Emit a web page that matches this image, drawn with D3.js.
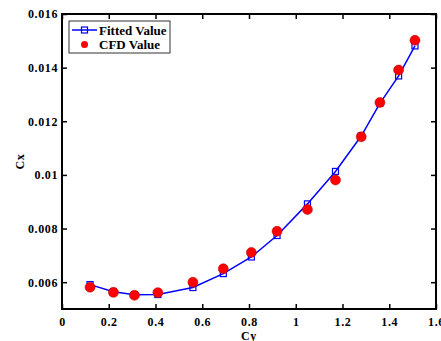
<!DOCTYPE html>
<html>
<head>
<meta charset="utf-8">
<script src="https://cdn.jsdelivr.net/npm/d3@7"></script>
<style>
  body { margin: 0; background: #fff; }
  svg text { font-family: "Liberation Serif", "Times New Roman", serif; font-weight: bold; }
</style>
</head>
<body>
<div id="chart"></div>
<script>
// values
const cy = [0.12, 0.22, 0.31, 0.41, 0.56, 0.69, 0.81, 0.92, 1.05, 1.17, 1.28, 1.36, 1.44, 1.51];
const fitted = [0.00591, 0.00564, 0.00553, 0.00554, 0.00580, 0.00632, 0.00694, 0.00774, 0.00892, 0.01013, 0.01145, 0.01267, 0.01369, 0.01481];
const cfd = [0.00581, 0.00562, 0.00551, 0.00561, 0.00600, 0.00650, 0.00711, 0.00790, 0.00871, 0.00981, 0.01142, 0.01270, 0.01391, 0.01502];
const xTicks = [0, 0.2, 0.4, 0.6, 0.8, 1, 1.2, 1.4, 1.6];
const yTicks = [0.006, 0.008, 0.01, 0.012, 0.014, 0.016];

const width = 441, height = 341;
const margin = { top: 14, right: 5, bottom: 32, left: 62 };

const svg = d3.select('#chart').append('svg')
    .attr('width', width)
    .attr('height', height);

const x = d3.scaleLinear().domain([0, 1.6]).range([margin.left, width - margin.right]);
const y = d3.scaleLinear().domain([0.005, 0.016]).range([height - margin.bottom, margin.top]);

const fmt = d => String(+d.toFixed(4));

// axes, ticks inside, mirrored on top/right
const styleAxis = g => {
    g.select('.domain').remove();
    g.selectAll('.tick line').attr('stroke', '#000').attr('stroke-width', 1.5);
    g.selectAll('.tick text').attr('font-size', 12).attr('letter-spacing', 0.6).attr('fill', '#000');
};

svg.append('g')
    .attr('transform', `translate(0,${y.range()[0]})`)
    .call(d3.axisBottom(x).tickValues(xTicks).tickFormat(fmt).tickSizeInner(-5).tickPadding(8))
    .call(styleAxis);
svg.append('g')
    .attr('transform', `translate(0,${y.range()[1]})`)
    .call(d3.axisTop(x).tickValues(xTicks).tickFormat('').tickSizeInner(-5))
    .call(styleAxis);
svg.append('g')
    .attr('transform', `translate(${x.range()[0]},0)`)
    .call(d3.axisLeft(y).tickValues(yTicks).tickFormat(fmt).tickSizeInner(-5).tickPadding(4))
    .call(styleAxis);
svg.append('g')
    .attr('transform', `translate(${x.range()[1]},0)`)
    .call(d3.axisRight(y).tickValues(yTicks).tickFormat('').tickSizeInner(-5))
    .call(styleAxis);

svg.append('rect')
    .attr('x', x.range()[0]).attr('y', y.range()[1])
    .attr('width', x.range()[1] - x.range()[0])
    .attr('height', y.range()[0] - y.range()[1])
    .attr('fill', 'none').attr('stroke', '#000').attr('stroke-width', 2);

// fitted line
const pts = cy.map((c, i) => ({ c, f: fitted[i], v: cfd[i] }));
svg.append('path')
    .datum(pts)
    .attr('fill', 'none')
    .attr('stroke', '#0000ff')
    .attr('stroke-width', 1.5)
    .attr('d', d3.line().x(d => x(d.c)).y(d => y(d.f)));

svg.append('g').selectAll('rect')
    .data(pts).enter().append('rect')
    .attr('x', d => x(d.c) - 3).attr('y', d => y(d.f) - 3)
    .attr('width', 6).attr('height', 6)
    .attr('fill', 'none').attr('stroke', '#0000ff').attr('stroke-width', 1.2);

svg.append('g').selectAll('circle')
    .data(pts).enter().append('circle')
    .attr('cx', d => x(d.c)).attr('cy', d => y(d.v))
    .attr('r', 5)
    .attr('fill', '#ff0000')
    .attr('stroke', '#b00000').attr('stroke-width', 0.5);

// axis titles
svg.append('text')
    .attr('x', (x.range()[0] + x.range()[1]) / 2).attr('y', 340)
    .attr('text-anchor', 'middle').attr('font-size', 12).attr('letter-spacing', 0.6)
    .text('Cy');
svg.append('text')
    .attr('transform', `translate(24,${(y.range()[0] + y.range()[1]) / 2}) rotate(-90)`)
    .attr('text-anchor', 'middle').attr('font-size', 12).attr('letter-spacing', 0.6)
    .text('Cx');

// legend
const leg = svg.append('g').attr('transform', 'translate(69,21)');
leg.append('rect')
    .attr('width', 101).attr('height', 32)
    .attr('fill', '#fff').attr('stroke', '#333').attr('stroke-width', 1);
leg.append('line')
    .attr('x1', 3).attr('x2', 28).attr('y1', 9).attr('y2', 9)
    .attr('stroke', '#0000ff').attr('stroke-width', 1.5);
leg.append('rect')
    .attr('x', 12.5).attr('y', 6).attr('width', 6).attr('height', 6)
    .attr('fill', 'none').attr('stroke', '#0000ff').attr('stroke-width', 1.2);
leg.append('circle')
    .attr('cx', 15.5).attr('cy', 23.5).attr('r', 3.5)
    .attr('fill', '#ff0000');
leg.append('text').attr('x', 30).attr('y', 13.5).attr('font-size', 13).text('Fitted Value');
leg.append('text').attr('x', 30).attr('y', 28).attr('font-size', 13).text('CFD Value');
</script>
</body>
</html>
